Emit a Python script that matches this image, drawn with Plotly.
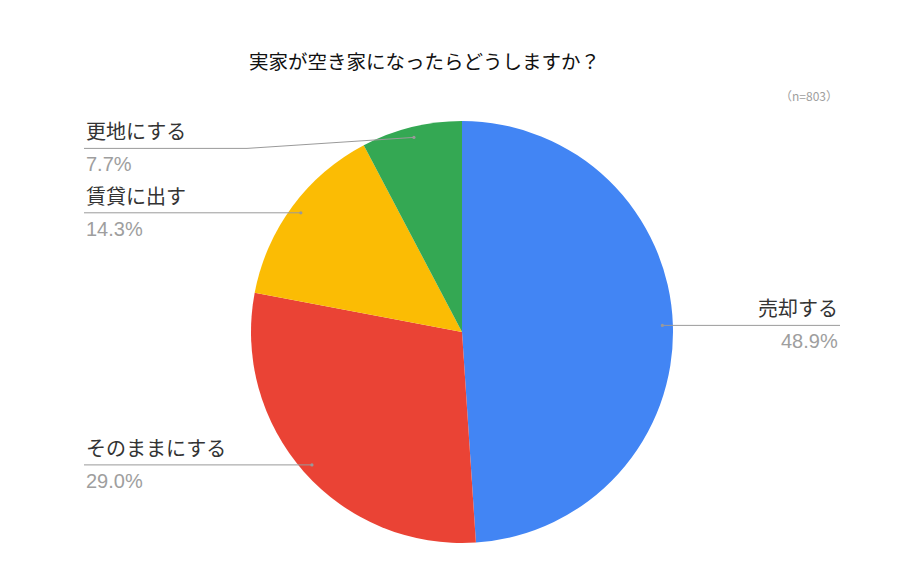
import math
import plotly.graph_objects as go

# ---- data ----
categories = ["売却する", "そのままにする", "賃貸に出す", "更地にする"]
values = [48.9, 29.0, 14.3, 7.7]
colors = ["#4285F4", "#EA4335", "#FBBC04", "#34A853"]
title_text = "実家が空き家になったらどうしますか？"
note_text = "（n=803）"

# ---- layout constants (pixels in the 923x585 window) ----
WIN_W, WIN_H = 923, 585
OFF = 8               # page body margin
W, H = WIN_W - 2 * OFF, WIN_H - 2 * OFF
CX, CY, R = 462, 332, 211
DOT_R = 0.95          # dot position as fraction of radius
LEFT_X = 84           # left label column x
RIGHT_X = 840         # right label column x
BEND_X = 247          # where a bent leader turns horizontal
LABEL_GAP = 11        # vertical offset for the top label line

def px(x):
    return (x - OFF) / W

def py(y):
    return 1 - (y - OFF) / H

fig = go.Figure(go.Pie(
    labels=categories,
    values=values,
    marker=dict(colors=colors, line=dict(width=0)),
    sort=False,
    direction="clockwise",
    rotation=0,
    textinfo="none",
    hoverinfo="label+percent",
    showlegend=False,
    domain=dict(x=[px(CX - R), px(CX + R)], y=[py(CY + R), py(CY - R)]),
))

shapes = []
annotations = []
total = sum(values)
cum = 0.0
LINE = dict(color="#9a9a9a", width=1)
for name, v in zip(categories, values):
    mid = (cum + v / 2) / total
    cum += v
    ang = 2 * math.pi * mid
    dx = CX + DOT_R * R * math.sin(ang)
    dy = CY - DOT_R * R * math.cos(ang)
    right = dx > CX
    ly = dy
    if dy < CY - R * 0.9:
        ly = dy + LABEL_GAP
    shapes.append(dict(type="circle", xref="paper", yref="paper",
                       x0=px(dx - 1.6), x1=px(dx + 1.6),
                       y0=py(dy + 1.6), y1=py(dy - 1.6),
                       fillcolor="#999999", line=dict(width=0)))
    if right:
        shapes.append(dict(type="line", xref="paper", yref="paper",
                           x0=px(dx), y0=py(dy), x1=px(RIGHT_X), y1=py(ly), line=LINE))
        ax, anchor = RIGHT_X, "right"
    else:
        if ly != dy:
            shapes.append(dict(type="line", xref="paper", yref="paper",
                               x0=px(dx), y0=py(dy), x1=px(BEND_X), y1=py(ly), line=LINE))
            shapes.append(dict(type="line", xref="paper", yref="paper",
                               x0=px(BEND_X), y0=py(ly), x1=px(LEFT_X), y1=py(ly), line=LINE))
        else:
            shapes.append(dict(type="line", xref="paper", yref="paper",
                               x0=px(dx), y0=py(dy), x1=px(LEFT_X), y1=py(ly), line=LINE))
        ax, anchor = LEFT_X, "left"
    annotations.append(dict(text=name, x=px(ax), y=py(ly - 1), xref="paper", yref="paper",
                            xanchor=anchor, yanchor="bottom", showarrow=False,
                            font=dict(size=20, color="#333333",
                                      family="Noto Sans CJK JP, sans-serif")))
    annotations.append(dict(text=f"{v:.1f}%", x=px(ax), y=py(ly + 3), xref="paper", yref="paper",
                            xanchor=anchor, yanchor="top", showarrow=False,
                            font=dict(size=20, color="#9e9e9e",
                                      family="Liberation Sans, Arial, sans-serif")))

annotations.append(dict(text=title_text, x=px(247), y=py(60), xref="paper", yref="paper",
                        xanchor="left", yanchor="middle", showarrow=False,
                        font=dict(size=19.5, color="#111111",
                                  family="Noto Sans CJK JP, sans-serif")))
annotations.append(dict(text=note_text, x=px(840), y=py(95), xref="paper", yref="paper",
                        xanchor="right", yanchor="middle", showarrow=False,
                        font=dict(size=12, color="#9e9e9e",
                                  family="Noto Sans CJK JP, sans-serif")))

fig.update_layout(
    width=W, height=H,
    margin=dict(l=0, r=0, t=0, b=0),
    paper_bgcolor="white",
    plot_bgcolor="white",
    shapes=shapes,
    annotations=annotations,
)

fig.write_html("out.html")
